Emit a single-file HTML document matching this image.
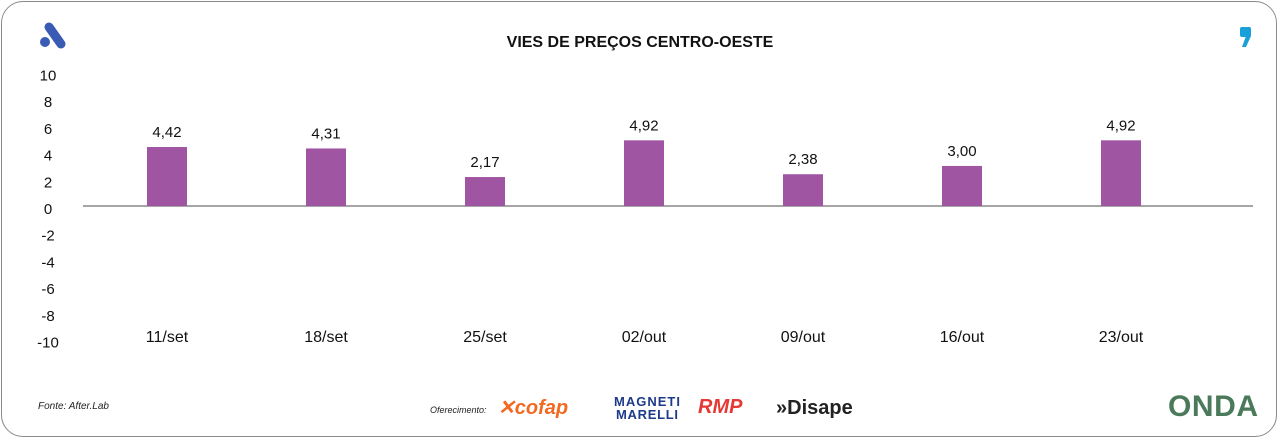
<!DOCTYPE html>
<html><head><meta charset="utf-8"><style>
html,body{margin:0;padding:0;background:#fff;}
body{width:1280px;height:440px;position:relative;overflow:hidden;font-family:"Liberation Sans",sans-serif;}
.frame{position:absolute;left:1px;top:1px;width:1276px;height:436px;border:1.5px solid #8a8a8a;border-radius:22px;box-sizing:border-box;}
</style></head><body>
<div class="frame"></div>
<svg width="1280" height="440" style="position:absolute;left:0;top:0">
  <g>
    <line x1="49" y1="27" x2="61" y2="44" stroke="#3a5bb3" stroke-width="9" stroke-linecap="round"/>
    <circle cx="45" cy="42" r="5" fill="#3a5bb3"/>
  </g>
  <text x="640" y="47" text-anchor="middle" font-size="16" font-weight="bold" fill="#111">VIES DE PREÇOS CENTRO-OESTE</text>
  <g>
    <rect x="1240" y="27" width="11" height="10" rx="2" fill="#1aa0d8"/>
    <path d="M1246 36 L1251 36 L1246 47 L1242 47 Z" fill="#1aa0d8"/>
  </g>
  <g id="yaxis"></g>
  <line x1="83" y1="206" x2="1253" y2="206" stroke="#888" stroke-width="1.5"/>
  <g id="bars"></g>
  <text x="38" y="409" font-size="10" font-style="italic" fill="#222">Fonte: After.Lab</text>
  <text x="430" y="413" font-size="9" font-style="italic" fill="#222">Oferecimento:</text>
  <text x="498" y="414" font-size="20" font-weight="bold" font-style="italic" fill="#f26a21">✕cofap</text>
  <text x="614" y="406" font-size="13" font-weight="bold" fill="#1e3a8a" textLength="66">MAGNETI</text>
  <text x="616" y="419" font-size="13" font-weight="bold" fill="#1e3a8a" textLength="62">MARELLI</text>
  <text x="698" y="413" font-size="20" font-weight="bold" font-style="italic" fill="#e53935">RMP</text>
  <text x="776" y="414" font-size="20" font-weight="bold" fill="#222">»Disape</text>
  <text x="1168" y="416" font-size="30" font-weight="bold" fill="#4a7a5a" textLength="90">ONDA</text>
</svg>
<script>
const categories=["11/set","18/set","25/set","02/out","09/out","16/out","23/out"];
const values=[4.42,4.31,2.17,4.92,2.38,3.00,4.92];
const yTicks=[10,8,6,4,2,0,-2,-4,-6,-8,-10];
const NS="http://www.w3.org/2000/svg";
function y(v){return 206-13.35*v;}
function x(i){return 167+i*159;}
const ya=document.getElementById('yaxis');
yTicks.forEach(t=>{
  const el=document.createElementNS(NS,'text');
  el.setAttribute('x',48);el.setAttribute('y',y(t)+8);
  el.setAttribute('text-anchor','middle');el.setAttribute('font-size','15');el.setAttribute('fill','#111');
  el.textContent=String(t);
  
  
  ya.appendChild(el);
});
const bg=document.getElementById('bars');
values.forEach((v,i)=>{
  const r=document.createElementNS(NS,'rect');
  const top=Math.min(y(v),y(0));
  r.setAttribute('x',x(i)-20);r.setAttribute('y',top);
  r.setAttribute('width',40);r.setAttribute('height',Math.abs(y(v)-y(0)));
  r.setAttribute('fill','#a055a3');
  
  
  bg.appendChild(r);
  const t=document.createElementNS(NS,'text');
  t.setAttribute('x',x(i));t.setAttribute('y',top-10);
  t.setAttribute('text-anchor','middle');t.setAttribute('font-size','15');t.setAttribute('fill','#111');
  t.textContent=v.toFixed(2).replace('.',',');
  
  
  bg.appendChild(t);
  const c=document.createElementNS(NS,'text');
  c.setAttribute('x',x(i));c.setAttribute('y',342);
  c.setAttribute('text-anchor','middle');c.setAttribute('font-size','16');c.setAttribute('fill','#111');
  c.textContent=categories[i];
  
  
  bg.appendChild(c);
});
</script>
</body></html>
